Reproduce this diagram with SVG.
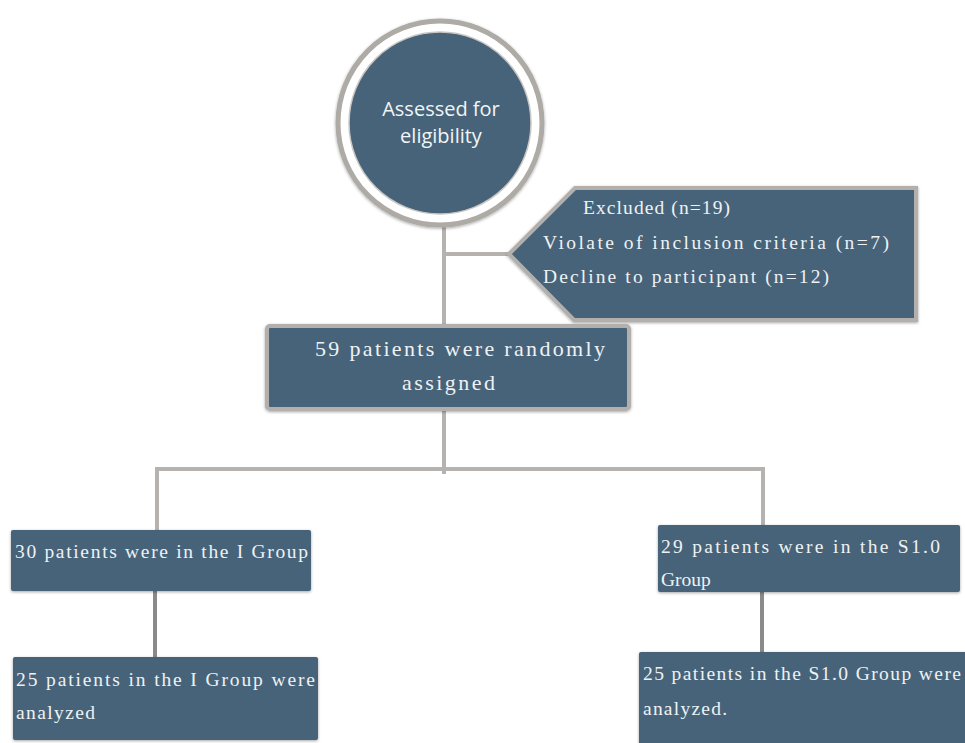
<svg xmlns="http://www.w3.org/2000/svg" width="965" height="743" viewBox="0 0 965 743">
<defs>
<style>
.box{fill:#46637a;}
.gbox{fill:#46637a;stroke:#b2afac;stroke-width:4;}
.t{font-family:"Liberation Serif","Noto Sans CJK SC",serif;fill:#eef2f3;}
.c{fill:none;stroke:#b5b2af;stroke-width:4;}
.cd{fill:none;stroke:#8a8a8a;stroke-width:4;}
</style>
<filter id="sh" x="-10%" y="-10%" width="120%" height="130%">
<feDropShadow dx="0" dy="1" stdDeviation="1.5" flood-color="#000" flood-opacity="0.35"/>
</filter>
</defs>
<rect width="965" height="743" fill="#fff"/>
<g id="connectors">
<line class="c" x1="444" y1="222" x2="444" y2="326"/>
<line class="c" x1="446" y1="254" x2="512" y2="254"/>
<line class="c" x1="444" y1="409" x2="444" y2="474"/>
<line class="c" x1="155" y1="469" x2="765" y2="469"/>
<line class="c" x1="157" y1="467" x2="157" y2="531"/>
<line class="c" x1="763" y1="467" x2="763" y2="526"/>
<line class="cd" x1="155" y1="590" x2="155" y2="661"/>
<line class="cd" x1="762" y1="591" x2="762" y2="657"/>
</g>
<g id="assessed">
<circle cx="440" cy="123" r="102" fill="#fff" stroke="#aeaaa6" stroke-width="5" filter="url(#sh)"/>
<circle cx="440" cy="123" r="91" fill="#46637a" stroke="#c9c6c3" stroke-width="1.5"/>
<text x="441" y="116" text-anchor="middle" font-family="Open Sans, sans-serif" font-size="20" fill="#f2f5f6">Assessed for</text>
<text x="441" y="143" text-anchor="middle" font-family="Open Sans, sans-serif" font-size="20" fill="#f2f5f6">eligibility</text>
</g>
<g id="excluded">
<polygon class="gbox" points="575,188 916,188 916,320 574,320 509,254" filter="url(#sh)"/>
<text class="t" font-size="19.5" x="583" y="214" textLength="147" lengthAdjust="spacing">Excluded (n=19)</text>
<text class="t" font-size="19.5" x="543" y="249" textLength="346" lengthAdjust="spacing">Violate of inclusion criteria (n=7)</text>
<text class="t" font-size="19.5" x="543" y="283" textLength="286" lengthAdjust="spacing">Decline to participant (n=12)</text>
</g>
<g id="randomized">
<rect class="gbox" x="267" y="326" width="362" height="83" rx="3" filter="url(#sh)"/>
<text class="t" font-size="22" x="315" y="356" textLength="290" lengthAdjust="spacing">59 patients were randomly</text>
<text class="t" font-size="22" x="402" y="390" textLength="93" lengthAdjust="spacing">assigned</text>
</g>
<g id="group-i">
<rect class="box" x="11" y="530" width="300" height="61" rx="2" filter="url(#sh)"/>
<text class="t" font-size="19.5" x="15" y="558" textLength="293" lengthAdjust="spacing">30 patients were in the I Group</text>
</g>
<g id="analyzed-i">
<rect class="box" x="13" y="657" width="305" height="83" rx="2" filter="url(#sh)"/>
<text class="t" font-size="19.5" x="16" y="686" textLength="299" lengthAdjust="spacing">25 patients in the I Group were</text>
<text class="t" font-size="19.5" x="16" y="719" textLength="79" lengthAdjust="spacing">analyzed</text>
</g>
<g id="group-s">
<rect class="box" x="658" y="525" width="302" height="67" rx="2" filter="url(#sh)"/>
<text class="t" font-size="19.5" x="661" y="553" textLength="279" lengthAdjust="spacing">29 patients were in the S1.0</text>
<text class="t" font-size="19.5" x="661" y="586">Group</text>
</g>
<g id="analyzed-s">
<rect class="box" x="639" y="652" width="330" height="95" rx="2" filter="url(#sh)"/>
<text class="t" font-size="19.5" x="643" y="680" textLength="318" lengthAdjust="spacing">25 patients in the S1.0 Group were</text>
<text class="t" font-size="19.5" x="643" y="715" textLength="84" lengthAdjust="spacing">analyzed.</text>
</g>
</svg>
